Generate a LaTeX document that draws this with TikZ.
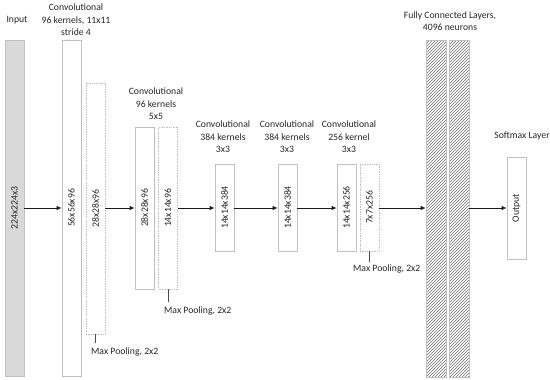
\documentclass[tikz,border=0pt]{standalone}
\usepackage{fontspec}
\setmainfont{Carlito}
\usetikzlibrary{arrows.meta,patterns}
\definecolor{bordergray}{HTML}{BFBFBF}
\definecolor{inputgray}{HTML}{D9D9D9}
\definecolor{arrowcol}{HTML}{1A1A1A}
\definecolor{hatchcol}{HTML}{6F6F6F}
\begin{document}
\begin{tikzpicture}[x=1pt,y=-1pt,
  every node/.style={font=\fontsize{9.7}{12.5}\selectfont, text=black!85},
  layerbox/.style={draw=bordergray, line width=0.7pt, fill=white, minimum width=19pt, inner sep=0pt},
  poolbox/.style={draw=bordergray, line width=0.7pt, densely dotted, fill=white, minimum width=19pt, inner sep=0pt},
  inbox/.style={draw=bordergray, line width=0.7pt, fill=inputgray, minimum width=19pt, inner sep=0pt},
  fcbox/.style={draw=bordergray, line width=0.6pt, pattern=north east lines, pattern color=hatchcol, minimum width=20pt, inner sep=0pt},
  caption/.style={align=center, inner sep=0pt},
  poolcap/.style={anchor=west, inner sep=0pt},
  flow/.style={draw=arrowcol, line width=0.8pt, -{Latex[length=5pt,width=4.5pt]}},
  tick/.style={draw=black!70, line width=0.6pt}
]
\useasboundingbox (0,0) rectangle (550,380);

% layers
\node[inbox, minimum height=336pt] (in) at (14.5,208) {\rotatebox{90}{224x224x3}};
\node[layerbox, minimum height=336pt] (c1) at (71.5,208) {\rotatebox{90}{56x56x96}};
\node[poolbox, minimum height=251pt] (p1) at (95.5,208.5) {\rotatebox{90}{28x28x96}};
\node[layerbox, minimum height=162pt] (c2) at (144.5,208) {\rotatebox{90}{28x28x96}};
\node[poolbox, minimum height=162pt] (p2) at (168,208) {\rotatebox{90}{14x14x96}};
\node[layerbox, minimum height=87pt] (c3) at (224.5,207.5) {\rotatebox{90}{14x14x384}};
\node[layerbox, minimum height=87pt] (c4) at (287.5,207.5) {\rotatebox{90}{14x14x384}};
\node[layerbox, minimum height=87pt] (c5) at (346.5,207.5) {\rotatebox{90}{14x14x256}};
\node[poolbox, minimum height=87pt] (p5) at (369.5,207.5) {\rotatebox{90}{7x7x256}};
\node[fcbox, minimum height=337pt] (f1) at (436,208.5) {};
\node[fcbox, minimum height=337pt] (f2) at (459,208.5) {};
\node[layerbox, minimum height=102pt] (out) at (516.5,208) {\rotatebox{90}{Output}};

% captions
\node[caption] (tin) at (17,20) {Input};
\node[caption] (tc1) at (76,20) {Convolutional\\96 kernels, 11x11\\stride 4};
\node[caption] (tc2) at (156,104) {Convolutional\\96 kernels\\5x5};
\node[caption] (tc3) at (223,137) {Convolutional\\384 kernels\\3x3};
\node[caption] (tc4) at (287,137) {Convolutional\\384 kernels\\3x3};
\node[caption] (tc5) at (349,137) {Convolutional\\256 kernel\\3x3};
\node[caption] (tfc) at (450,21) {Fully Connected Layers,\\4096 neurons};
\node[caption] (tsm) at (522,136) {Softmax Layer};

% pooling captions
\node[poolcap] (mp1) at (91,352) {Max Pooling, 2x2};
\node[poolcap] (mp2) at (164,311) {Max Pooling, 2x2};
\node[poolcap] (mp5) at (353,269) {Max Pooling, 2x2};
\coordinate (k1) at (95.5,343);
\coordinate (k2) at (168,302);
\coordinate (k5) at (369.5,262);
\draw[tick] (p1.south) -- (k1);
\draw[tick] (p2.south) -- (k2);
\draw[tick] (p5.south) -- (k5);

% connectors
\draw[flow] (in.east |- 0,208) -- (c1.west |- 0,208);
\draw[flow] (p1.east |- 0,208) -- (c2.west |- 0,208);
\draw[flow] (p2.east |- 0,208) -- (c3.west |- 0,208);
\draw[flow] (c3.east |- 0,208) -- (c4.west |- 0,208);
\draw[flow] (c4.east |- 0,208) -- (c5.west |- 0,208);
\draw[flow] (p5.east |- 0,208) -- (f1.west |- 0,208);
\draw[flow] (f2.east |- 0,208) -- (out.west |- 0,208);
\end{tikzpicture}
\end{document}
